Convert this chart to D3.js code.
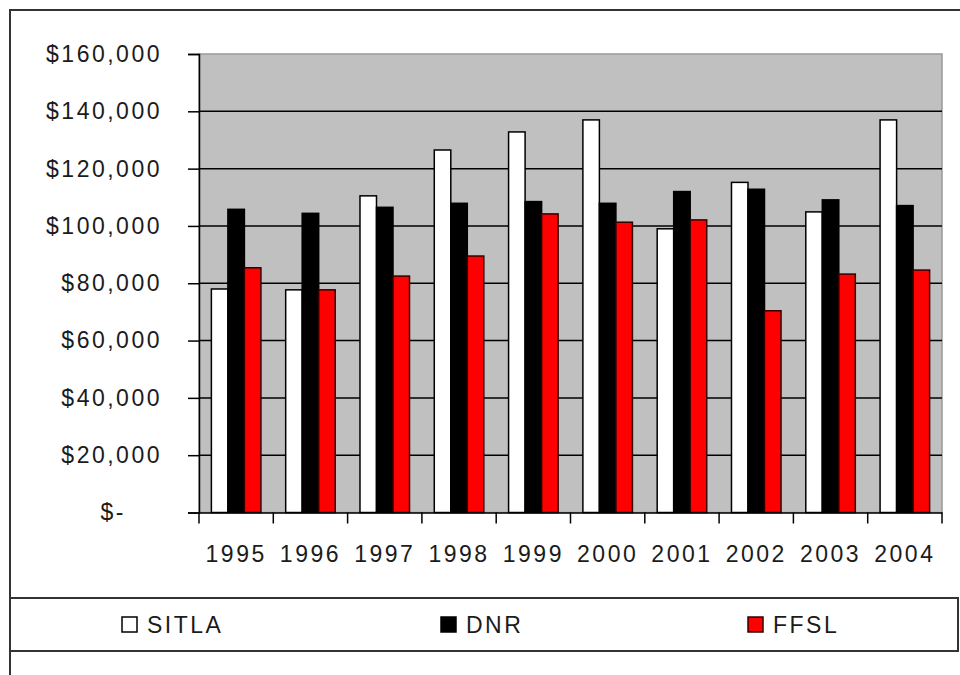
<!DOCTYPE html>
<html>
<head>
<meta charset="utf-8">
<script src="https://cdn.jsdelivr.net/npm/d3@7"></script>
<style>
  html, body { margin: 0; padding: 0; background: #fff; }
  svg { display: block; }
  text { font-family: "Liberation Sans", Arial, sans-serif; fill: #1b1b1b; }
</style>
</head>
<body>
<svg id="chart" width="960" height="675"></svg>
<script>
// Annual funding by agency, 1995-2004
const years = ["1995","1996","1997","1998","1999","2000","2001","2002","2003","2004"];
const seriesNames = ["SITLA", "DNR", "FFSL"];
const sitla = [78000, 77700, 110500, 126500, 132800, 137000, 99000, 115200, 104900, 137000];
const dnr   = [105800, 104400, 106500, 107900, 108500, 107900, 112000, 112800, 109100, 107100];
const ffsl  = [85400, 77700, 82500, 89500, 104200, 101300, 102100, 70400, 83200, 84600];
const yTicks = [0, 20000, 40000, 60000, 80000, 100000, 120000, 140000, 160000];
const seriesColors = ["#ffffff", "#000000", "#ff0000"];

const seriesValues = [sitla, dnr, ffsl];
const svg = d3.select("#chart");

// outer frame (runs past the right and bottom edges)
svg.append("rect")
  .attr("x", 10).attr("y", 10)
  .attr("width", 1000).attr("height", 800)
  .attr("fill", "#fff").attr("stroke", "#333").attr("stroke-width", 2);

const plot = { left: 199, top: 54, right: 942, bottom: 512.5 };

const x = d3.scaleBand().domain(years).range([plot.left, plot.right]).paddingInner(0).paddingOuter(0);
// three touching bars per year, gap of 1.5 bar widths between groups
const inner = d3.scaleBand().domain(seriesNames)
  .range([0, x.bandwidth()]).paddingInner(0).paddingOuter(0.75);
const y = d3.scaleLinear().domain([0, 160000]).range([plot.bottom, plot.top]);

// plot background
svg.append("rect")
  .attr("x", plot.left).attr("y", plot.top)
  .attr("width", plot.right - plot.left).attr("height", plot.bottom - plot.top)
  .attr("fill", "#c0c0c0").attr("stroke", "#999").attr("stroke-width", 1.5);

// horizontal gridlines
svg.append("g")
  .selectAll("line")
  .data(yTicks.filter(t => t > 0 && t < 160000))
  .join("line")
  .attr("x1", plot.left).attr("x2", plot.right)
  .attr("y1", d => y(d)).attr("y2", d => y(d))
  .attr("stroke", "#000").attr("stroke-width", 1.5);

// bars
const groups = svg.append("g")
  .selectAll("g")
  .data(years)
  .join("g")
  .attr("transform", d => `translate(${x(d)},0)`);

groups.selectAll("rect")
  .data((yr, i) => seriesNames.map((s, k) => ({ s, k, v: seriesValues[k][i] })))
  .join("rect")
  .attr("x", d => inner(d.s))
  .attr("width", inner.bandwidth())
  .attr("y", d => y(d.v))
  .attr("height", d => y(0) - y(d.v))
  .attr("fill", d => seriesColors[d.k])
  .attr("stroke", d => d.k === 2 ? "#300" : "#000")
  .attr("stroke-width", 1.5);

// y axis
const yAxis = d3.axisLeft(y)
  .tickValues(yTicks)
  .tickSize(11)
  .tickPadding(26)
  .tickFormat(d => d === 0 ? "$-" : "$" + d3.format(",")(d));

const gy = svg.append("g")
  .attr("transform", `translate(${plot.left},0)`)
  .call(yAxis);
gy.select(".domain").attr("stroke", "#000").attr("stroke-width", 1.5);
gy.selectAll(".tick line").attr("stroke", "#000").attr("stroke-width", 1.5);
gy.selectAll(".tick text")
  .style("font-size", "23px")
  .style("letter-spacing", "2.5px")
  .attr("fill", "#1b1b1b")
  .attr("dx", d => d === 0 ? -36 : 0);

// x axis: ticks on category boundaries
const xAxis = d3.axisBottom(x).tickSize(0).tickPadding(33);
const gx = svg.append("g")
  .attr("transform", `translate(0,${plot.bottom})`)
  .call(xAxis);
gx.select(".domain").attr("stroke", "#000").attr("stroke-width", 1.5);
gx.selectAll(".tick text")
  .style("font-size", "23px")
  .style("letter-spacing", "2.5px")
  .attr("fill", "#1b1b1b");

const boundaries = years.map(d => x(d)).concat([x(years[years.length - 1]) + x.bandwidth()]);
svg.append("g")
  .selectAll("line")
  .data(boundaries)
  .join("line")
  .attr("x1", d => d).attr("x2", d => d)
  .attr("y1", plot.bottom).attr("y2", plot.bottom + 11)
  .attr("stroke", "#000").attr("stroke-width", 1.5);

// legend
const legend = svg.append("g");
legend.append("rect")
  .attr("x", 10).attr("y", 598)
  .attr("width", 948).attr("height", 53)
  .attr("fill", "#fff").attr("stroke", "#333").attr("stroke-width", 2);

const legendX = [122, 441, 748];
const items = legend.selectAll("g.item")
  .data(seriesNames)
  .join("g")
  .attr("class", "item")
  .attr("transform", (d, i) => `translate(${legendX[i]},617)`);
items.append("rect")
  .attr("width", 15).attr("height", 15)
  .attr("fill", (d, i) => seriesColors[i])
  .attr("stroke", (d, i) => i === 2 ? "#300" : "#000")
  .attr("stroke-width", 1.5);
items.append("text")
  .attr("x", 25).attr("y", 16)
  .style("font-size", "23px")
  .style("letter-spacing", "2.5px")
  .text(d => d);
</script>
</body>
</html>
